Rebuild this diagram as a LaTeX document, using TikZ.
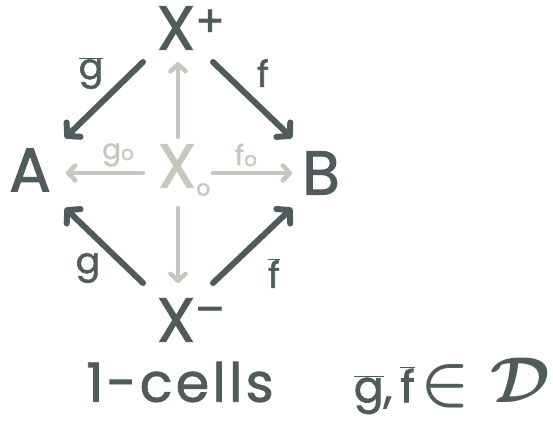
\documentclass[tikz,border=0pt]{standalone}
\usepackage{fontspec}
\setmainfont{Poppins}[FakeBold=1.5]
\usetikzlibrary{arrows.meta}
\definecolor{ink}{HTML}{505C5C}
\definecolor{pale}{HTML}{C9C6BF}
\newcommand{\ovl}[1]{$\overline{\hbox{#1}}$}
\tikzset{
  big/.style={font=\fontsize{62}{66}\selectfont, text=ink, inner sep=0pt},
  lbl/.style={font=\fontsize{36}{40}\selectfont, text=ink, inner sep=0pt},
  plbl/.style={font=\fontsize{28}{30}\selectfont, text=pale, inner sep=0pt},
  captext/.style={font=\fontsize{54}{60}\selectfont\addfontfeature{LetterSpace=6}, text=ink, inner sep=0pt},
  domtext/.style={font=\fontsize{44}{50}\selectfont, text=ink, inner sep=0pt},
  darr/.style={draw=ink, line width=6pt, line cap=round, -{Straight Barb[length=9pt,width=20pt,round]}},
  parr/.style={draw=pale, line width=4.5pt, line cap=round, -{Straight Barb[length=7pt,width=15pt,round]}},
}
\begin{document}
\begin{tikzpicture}[x=1pt,y=1pt]
\useasboundingbox (0,0) rectangle (553,-423);
\node[big] (xp) at (176,-28) {X\rlap{\raisebox{4pt}{\textsuperscript{+}}}};
\node[big] (a) at (30,-170) {A};
\node[big] (b) at (321,-173) {B};
\node[big, text=pale] (x0) at (177,-170) {X\rlap{\fontsize{22}{22}\selectfont\raisebox{-8pt}{o}}};
\node[big] (xm) at (176,-320) {X\rlap{\raisebox{8pt}{\textsuperscript{–}}}};
\coordinate (xpl) at (143,-62); \coordinate (xpr) at (213,-62);
\coordinate (al) at (65,-138); \coordinate (bl) at (292,-138);
\coordinate (xml) at (143,-283); \coordinate (xmr) at (213,-283);
\coordinate (aml) at (65,-208); \coordinate (bml) at (292,-208);
\draw[darr] (xpl) -- (al);
\draw[darr] (xpr) -- (bl);
\draw[darr] (xml) -- (aml);
\draw[darr] (xmr) -- (bml);
\coordinate (x0u) at (178,-137); \coordinate (x0ut) at (178,-62);
\coordinate (x0d) at (178,-208); \coordinate (x0dt) at (178,-283);
\coordinate (x0l) at (143,-173); \coordinate (x0lt) at (66,-173);
\coordinate (x0r) at (213,-173); \coordinate (x0rt) at (292,-173);
\draw[parr] (x0u) -- (x0ut);
\draw[parr] (x0d) -- (x0dt);
\draw[parr] (x0l) -- (x0lt);
\draw[parr] (x0r) -- (x0rt);
\node[plbl] (go) at (118,-155) {g\raisebox{-1pt}{\fontsize{20}{20}\selectfont o}};
\node[plbl] (fo) at (246,-155) {f\raisebox{-1pt}{\fontsize{20}{20}\selectfont o}};
\node[lbl] (gbar) at (91,-73) {\ovl{g}};
\node[lbl] (f) at (263,-73) {f};
\node[lbl] (g) at (88,-268) {g};
\node[lbl] (fbar) at (274,-273) {\ovl{f}};
\node[captext] (cells) at (180,-382) {1-cells};
\node[domtext, anchor=east] (dom) at (551,-386) {\ovl{g},\hspace{8pt}\ovl{f}\hspace{6pt}\scalebox{2.6}{\boldmath$\in\mathcal{D}$}};
\end{tikzpicture}
\end{document}
